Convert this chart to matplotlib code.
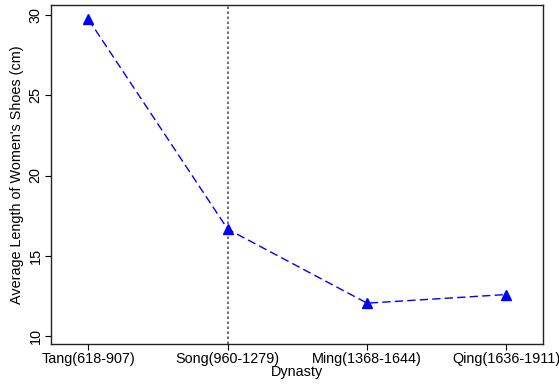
import matplotlib
matplotlib.use("Agg")
import matplotlib.pyplot as plt

plt.rcParams['font.family'] = ['Liberation Sans', 'DejaVu Sans']

dynasties = ['Tang(618-907)', 'Song(960-1279)', 'Ming(1368-1644)', 'Qing(1636-1911)']
shoe_length = [29.76, 16.65, 12.03, 12.57]

fig = plt.figure(figsize=(5.59, 3.84), dpi=100)
ax = fig.add_axes([51 / 559, 40 / 384, 492 / 559, 339 / 384])

x = list(range(len(dynasties)))
ax.axvline(1, color='#555555', linestyle=(0, (1.5, 1.5)), linewidth=1.2, zorder=1)
ax.plot(x, shoe_length, color='blue', linestyle=(0, (6, 3)), linewidth=1.0,
        marker='^', markersize=6.5, zorder=2)

ax.set_xlim(-0.268, 3.262)
ax.set_ylim(9.48, 30.65)
ax.set_xticks(x)
ax.set_xticklabels(dynasties, fontsize=10.4)
ax.set_yticks([10, 15, 20, 25, 30])
ax.set_yticklabels(['10', '15', '20', '25', '30'], fontsize=10.4, rotation=90, va='center')
ax.tick_params(direction='out', length=4, width=0.8, pad=2)
ax.set_xlabel('Dynasty', fontsize=10.4, labelpad=-1)
ax.set_ylabel("Average Length of Women's Shoes (cm)", fontsize=10.4, labelpad=3)
for s in ax.spines.values():
    s.set_linewidth(1.0)
    s.set_color('#222222')

fig.savefig('out.png', dpi=100)
